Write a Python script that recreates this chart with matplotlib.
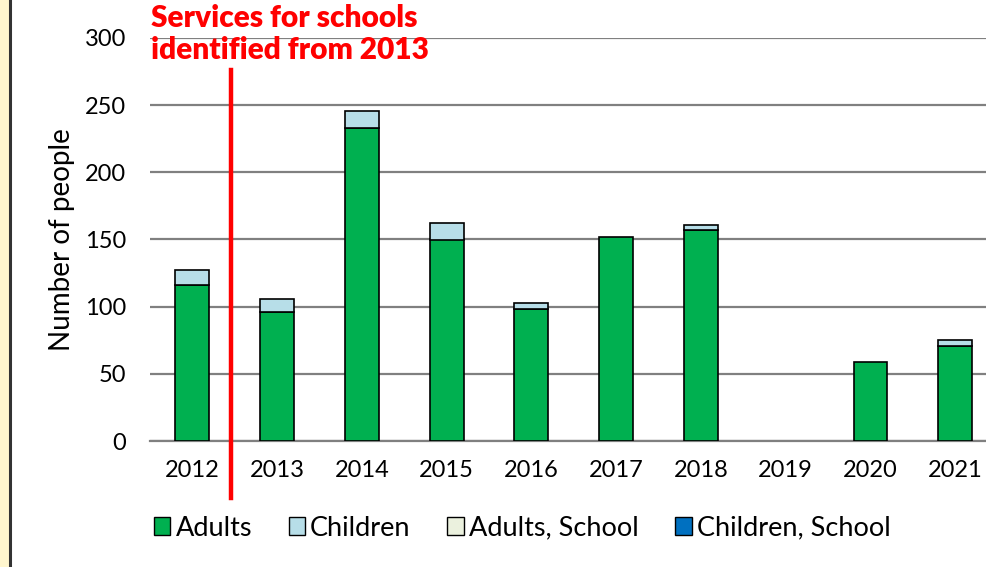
import matplotlib
matplotlib.use("Agg")
import matplotlib.pyplot as plt
from matplotlib.patches import Patch, Rectangle
from matplotlib.lines import Line2D
import numpy as np

plt.rcParams['font.family'] = ['Lato', 'DejaVu Sans']

years = ["2012", "2013", "2014", "2015", "2016", "2017", "2018", "2019", "2020", "2021"]
adults = [116, 96, 233, 150, 98, 152, 157, 0, 59, 71]
children = [11, 10, 13, 12, 5, 0, 4, 0, 0, 4]
adults_school = [0, 0, 0, 0, 0, 0, 0, 0, 0, 0]
children_school = [0, 0, 0, 0, 0, 0, 0, 0, 0, 0]
series_names = ["Adults", "Children", "Adults, School", "Children, School"]
series_colors = ["#00B050", "#B7DEE8", "#EBF1DE", "#0070C0"]
y_ticks = [0, 50, 100, 150, 200, 250, 300]
annotation = "Services for schools\nidentified from 2013"

W, H = 987, 567
fig = plt.figure(figsize=(W / 100, H / 100), dpi=100)
fig.patch.set_facecolor("white")

# beige frame on the left
fig.add_artist(Rectangle((0, 0), 9 / W, 1, transform=fig.transFigure,
                         facecolor="#FFF6CE", edgecolor="none"))
fig.add_artist(Line2D([10.5 / W, 10.5 / W], [0, 1], transform=fig.transFigure,
                      color="#333333", lw=2.2))

ax = fig.add_axes([150 / W, 1 - 441 / H, 1 - 150 / W, (441 - 38) / H])
x = np.arange(len(years))
width = 0.40
bottom = np.zeros(len(years))
for vals, col in zip([adults, children, adults_school, children_school], series_colors):
    vals = np.array(vals, dtype=float)
    lws = [1.2 if v > 0 else 0 for v in vals]
    ax.bar(x, vals, width, bottom=bottom, color=col, edgecolor="black",
           linewidth=lws, zorder=3)
    bottom += vals

ax.set_ylim(0, 300)
ax.set_xlim(-0.5, 9.375)
ax.set_yticks(y_ticks)
ax.set_xticks(x)
ax.set_xticklabels(years)
ax.tick_params(axis="both", length=0, labelsize=17, colors="black")
ax.tick_params(axis="x", pad=14)
ax.tick_params(axis="y", pad=17)
ax.yaxis.grid(True, color="#808080", lw=1.6, zorder=0)
for s in ["top", "right", "left"]:
    ax.spines[s].set_visible(False)
ax.spines["bottom"].set_color("#808080")
ax.spines["bottom"].set_linewidth(1.6)
ax.set_ylabel("Number of people", fontsize=20)
ax.yaxis.set_label_coords(-75 / (W - 150), 0.5)

# red divider line
ax.plot([0.46, 0.46], [-42.5, 276], color="#FF0000", lw=3.2, clip_on=False, zorder=4)
fig.text(151 / W, 1 - 34 / H, annotation, color="#FF0000", fontsize=21.5,
         fontweight="heavy", ha="left", va="center", linespacing=1.17)

handles = [Patch(facecolor=c, edgecolor="black", linewidth=1.0) for c in series_colors]
fig.legend(handles, series_names, loc="center left",
           bbox_to_anchor=(143 / W, 1 - 528 / H), ncol=4, frameon=False,
           fontsize=19.5, handlelength=0.6, handleheight=0.6, handletextpad=0.2,
           columnspacing=1.35, borderaxespad=0)

fig.savefig("out.png", dpi=100)
